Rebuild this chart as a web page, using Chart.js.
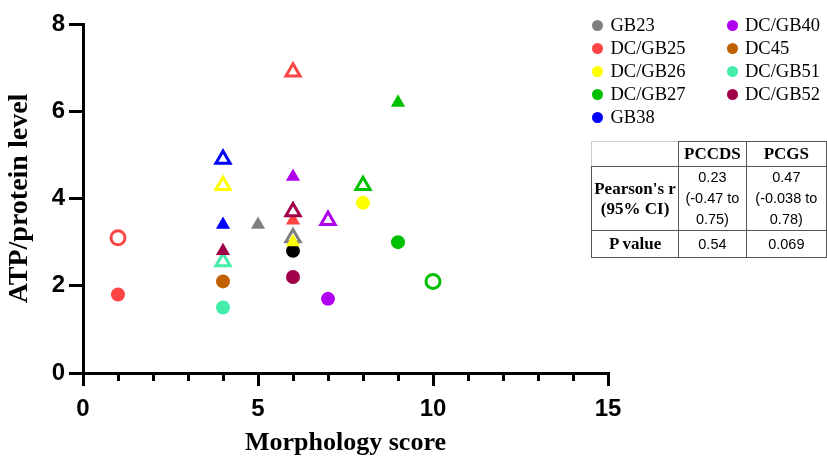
<!DOCTYPE html>
<html>
<head>
<meta charset="utf-8">
<script src="https://cdn.jsdelivr.net/npm/chart.js@4.4.0/dist/chart.umd.min.js"></script>
<style>
  body { margin: 0; background: #fff; }
  #wrap { position: relative; width: 827px; height: 463px; overflow: hidden; }
  #myChart { position: absolute; left: 0; top: 0; }
  .legend-item {
    position: absolute;
    font: 18.5px "Liberation Serif", "Times New Roman", serif;
    line-height: 20px;
    white-space: nowrap;
    color: #000;
  }
  .legend-item .dot {
    position: absolute;
    width: 11px; height: 11px;
    border-radius: 50%;
  }
  #stats {
    position: absolute; left: 591px; top: 141px;
    border-collapse: collapse;
    font: 14.5px "Liberation Sans", Arial, sans-serif;
    color: #000;
  }
  #stats td {
    border: 1px solid #555;
    text-align: center;
    padding: 0;
    line-height: 21px;
  }
  #stats td.head { font: bold 17px "Liberation Serif", "Times New Roman", serif; line-height: 20px; }
  #stats td.blank { border-top-color: #ccc; border-left-color: #ccc; }
</style>
</head>
<body>
<div id="wrap">
  <canvas id="myChart" width="827" height="463"></canvas>
  <div id="legend"></div>
  <table id="stats"></table>
</div>
<script>
// ***** DATA *****

const strains = ['GB23', 'DC/GB25', 'DC/GB26', 'DC/GB27', 'GB38', 'DC/GB40', 'DC45', 'DC/GB51', 'DC/GB52'];

// morphology score of each point, one list per strain
const morphScores = [
  [5, 6],
  [1, 1, 6, 6],
  [4, 6, 8],
  [8, 9, 9, 10],
  [4, 4],
  [6, 7, 7],
  [4],
  [4, 4],
  [4, 6, 6]
];

// ATP/protein level of each point
const atpLevels = [
  [3.4, 3.1],
  [3.1, 1.8, 6.9, 3.5],
  [4.3, 3.0, 3.9],
  [4.3, 6.2, 3.0, 2.1],
  [4.9, 3.4],
  [4.5, 3.5, 1.7],
  [2.1],
  [2.55, 1.5],
  [2.8, 3.7, 2.2]
];

// c = filled circle, co = open circle, t = filled triangle, to = open triangle
const markerKinds = [
  ['t', 'to'],
  ['co', 'c', 'to', 't'],
  ['to', 't', 'c'],
  ['to', 't', 'c', 'co'],
  ['to', 't'],
  ['t', 'to', 'c'],
  ['c'],
  ['to', 'c'],
  ['t', 'to', 'c']
];

// the black point that has no legend entry
const otherScore = [6];
const otherAtp = [2.8];

const xTicks = [0, 5, 10, 15];
const yTicks = [0, 2, 4, 6, 8];

const tableHead = ['', 'PCCDS', 'PCGS'];
const tableRowNames = ["Pearson's r<br>(95% CI)", 'P value'];
const pccdsValues = ['0.23<br>(-0.47 to<br>0.75)', '0.54'];
const pcgsValues = ['0.47<br>(-0.038 to<br>0.78)', '0.069'];


// ***** STYLES *****
const strainColors = ['#808080', '#ff4444', '#ffff00', '#00c000', '#0000ff', '#b000f0', '#c06000', '#44eeaa', '#a00048'];

function kindStyle(kind, color){
  let open = kind === 'co' || kind === 'to';
  let tri = kind === 't' || kind === 'to';
  return {
    style: tri ? 'triangle' : 'circle',
    radius: tri ? 8.2 : 7,
    border: open ? 3 : 0,
    fill: open ? '#fff' : color
  };
}

function makeDataset(label, xs, ys, kinds, color, order){
  let pts = [];
  let st = [];
  for (let i = 0; i < xs.length; i++){
    pts.push({x: xs[i], y: ys[i]});
    st.push(kindStyle(kinds[i], color));
  }
  return {
    label: label,
    data: pts,
    order: order,
    pointStyle: st.map(s => s.style),
    pointRadius: st.map(s => s.radius),
    pointBorderWidth: st.map(s => s.border),
    pointBackgroundColor: st.map(s => s.fill),
    pointBorderColor: color
  };
}

let datasets = [];
// drawn first, so it sits under the others
datasets.push(makeDataset('other', otherScore, otherAtp, ['c'], '#000', 100));
for (let i = 0; i < strains.length; i++){
  datasets.push(makeDataset(strains[i], morphScores[i], atpLevels[i], markerKinds[i], strainColors[i], strains.length - i));
}

// minor ticks on the x axis, at every whole score
const minorTicks = {
  id: 'minorTicks',
  afterDraw(chart){
    let xs = chart.scales.x;
    let c = chart.ctx;
    c.save();
    c.strokeStyle = '#000';
    c.lineWidth = 3;
    for (let v = xs.min; v <= xs.max; v++){
      if (xTicks.includes(v)) continue;
      let px = Math.round(xs.getPixelForValue(v)) + 0.5;
      c.beginPath();
      c.moveTo(px, chart.chartArea.bottom);
      c.lineTo(px, chart.chartArea.bottom + 8);
      c.stroke();
    }
    c.restore();
  }
};

const tickFont = {family: '"Liberation Sans", Arial, sans-serif', size: 24, weight: 'bold'};
const xTitleFont = {family: '"Liberation Serif", "Times New Roman", serif', size: 26, weight: 'bold'};
const yTitleFont = {family: '"Liberation Serif", "Times New Roman", serif', size: 28, weight: 'bold'};

const ctx = document.getElementById('myChart').getContext('2d');
new Chart(ctx, {
  type: 'scatter',
  data: {datasets: datasets},
  options: {
    responsive: false,
    animation: false,
    events: [],
    layout: {padding: {top: 24, right: 219, bottom: 0, left: 0}},
    plugins: {legend: {display: false}, tooltip: {enabled: false}},
    scales: {
      x: {
        type: 'linear',
        min: 0, max: 15,
        afterBuildTicks: s => { s.ticks = xTicks.map(v => ({value: v})); },
        afterFit: s => { s.height = 90; },
        grid: {drawOnChartArea: false, tickLength: 13, lineWidth: 3, color: '#000'},
        border: {display: true, width: 3, color: '#000'},
        ticks: {color: '#000', font: tickFont, padding: 9, maxRotation: 0},
        title: {display: true, text: 'Morphology score', color: '#000', font: xTitleFont, padding: {top: 0, bottom: 4}}
      },
      y: {
        type: 'linear',
        min: 0, max: 8,
        afterBuildTicks: s => { s.ticks = yTicks.map(v => ({value: v})); },
        afterFit: s => { s.width = 83; },
        grid: {drawOnChartArea: false, tickLength: 14, lineWidth: 3, color: '#000'},
        border: {display: true, width: 3, color: '#000'},
        ticks: {color: '#000', font: tickFont, padding: 4},
        title: {display: true, text: 'ATP/protein level', color: '#000', font: yTitleFont, padding: {top: 3, bottom: 0}}
      }
    }
  },
  plugins: [minorTicks]
});


// ***** LEGEND *****
let legendBox = document.getElementById('legend');
for (let i = 0; i < strains.length; i++){
  let col = i < 5 ? 0 : 1;
  let row = i < 5 ? i : i - 5;
  let item = document.createElement('div');
  item.className = 'legend-item';
  item.style.left = (col ? 745 : 610.5) + 'px';
  item.style.top = (25 + row * 23.1 - 10) + 'px';
  item.textContent = strains[i];
  let dot = document.createElement('span');
  dot.className = 'dot';
  dot.style.background = strainColors[i];
  dot.style.left = '-18.5px';
  dot.style.top = '4.5px';
  item.appendChild(dot);
  legendBox.appendChild(item);
}


// ***** TABLE *****
let table = document.getElementById('stats');
const colWidths = [87, 67, 81];
const rowHeights = [25, 63, 27];

let headRow = table.insertRow();
headRow.style.height = rowHeights[0] + 'px';
for (let j = 0; j < tableHead.length; j++){
  let cell = headRow.insertCell();
  cell.innerHTML = tableHead[j];
  cell.style.width = colWidths[j] + 'px';
  cell.className = j === 0 ? 'head blank' : 'head';
}
for (let r = 0; r < tableRowNames.length; r++){
  let row = table.insertRow();
  row.style.height = rowHeights[r + 1] + 'px';
  let nameCell = row.insertCell();
  nameCell.innerHTML = tableRowNames[r];
  nameCell.className = 'head';
  row.insertCell().innerHTML = pccdsValues[r];
  row.insertCell().innerHTML = pcgsValues[r];
}
</script>
</body>
</html>
